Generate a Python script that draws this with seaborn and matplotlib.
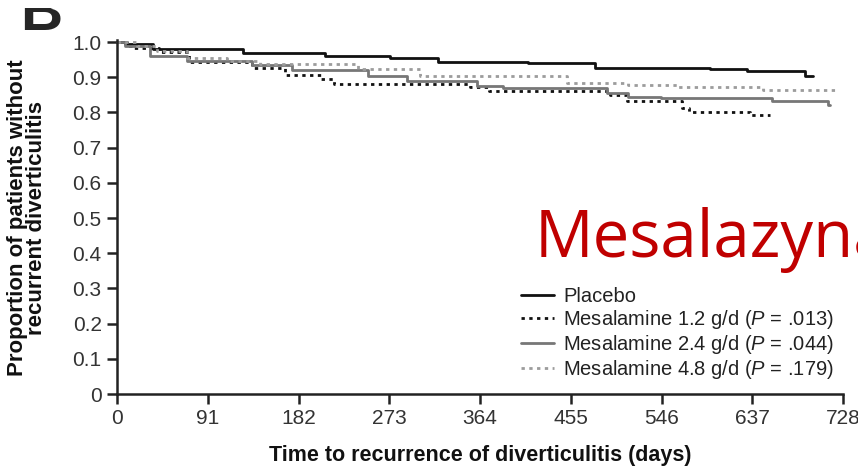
import numpy as np
import pandas as pd
import matplotlib
matplotlib.use("Agg")
import matplotlib.pyplot as plt
from matplotlib.patches import Rectangle
import seaborn as sns

# ---- data ----
placebo_days = [0, 8, 36, 126, 209, 274, 322, 412, 479, 595, 632, 690, 698]
placebo_surv = [1.0, 0.993, 0.98, 0.968, 0.961, 0.954, 0.944, 0.939, 0.927, 0.923, 0.918, 0.904, 0.904]

m12_days = [0, 10, 17, 42, 72, 135, 168, 205, 218, 354, 373, 494, 511, 567, 574, 635, 655]
m12_surv = [1.0, 0.99, 0.983, 0.972, 0.943, 0.925, 0.906, 0.894, 0.882, 0.871, 0.861, 0.849, 0.833, 0.812, 0.80, 0.792, 0.792]

m24_days = [0, 8, 33, 70, 135, 175, 252, 291, 361, 387, 491, 512, 545, 657, 713, 715]
m24_surv = [1.0, 0.99, 0.959, 0.947, 0.935, 0.921, 0.903, 0.888, 0.876, 0.868, 0.854, 0.845, 0.840, 0.831, 0.822, 0.822]

m48_days = [0, 20, 40, 70, 110, 143, 242, 304, 451, 512, 562, 648, 724]
m48_surv = [1.0, 0.99, 0.975, 0.955, 0.945, 0.937, 0.922, 0.902, 0.884, 0.878, 0.871, 0.864, 0.864]

labels = ["Placebo",
          r"Mesalamine 1.2 g/d ($\it{P}$ = .013)",
          r"Mesalamine 2.4 g/d ($\it{P}$ = .044)",
          r"Mesalamine 4.8 g/d ($\it{P}$ = .179)"]
x_ticks = [0, 91, 182, 273, 364, 455, 546, 637, 728]
y_ticks = [0, 0.1, 0.2, 0.3, 0.4, 0.5, 0.6, 0.7, 0.8, 0.9, 1.0]
y_ticklabels = ["0", "0.1", "0.2", "0.3", "0.4", "0.5", "0.6", "0.7", "0.8", "0.9", "1.0"]

sns.set_style("white")
plt.rcParams["font.family"] = ["Liberation Sans", "DejaVu Sans"]
plt.rcParams["mathtext.fontset"] = "custom"
plt.rcParams["mathtext.rm"] = "Liberation Sans"
plt.rcParams["mathtext.it"] = "Liberation Sans:italic"

fig = plt.figure(figsize=(8.58, 4.68), dpi=100)
ax = fig.add_axes([117/858, 74/468, 726/858, 352/468])

series = [
    (placebo_days, placebo_surv, "#111111", "-"),
    (m12_days, m12_surv, "#111111", (0, (1.2, 1.6))),
    (m24_days, m24_surv, "#777777", "-"),
    (m48_days, m48_surv, "#9c9c9c", (0, (1.2, 1.6))),
]
handles = []
for (d, s, c, ls), lab in zip(series, labels):
    df = pd.DataFrame({"day": d, "surv": s})
    sns.lineplot(data=df, x="day", y="surv", ax=ax, estimator=None, sort=False,
                 drawstyle="steps-post", color=c, linestyle=ls, linewidth=2.0,
                 legend=False)
    handles.append(ax.get_lines()[-1])

ax.set_xlim(0, 728)
ax.set_ylim(0, 1.0)
ax.set_xticks(x_ticks)
ax.set_yticks(y_ticks)
ax.set_yticklabels(y_ticklabels)
for sp in ["top", "right"]:
    ax.spines[sp].set_visible(False)
for sp in ["left", "bottom"]:
    ax.spines[sp].set_linewidth(1.8)
    ax.spines[sp].set_color("#222222")
ax.spines["left"].set_bounds(0, 1.005)
ax.tick_params(axis="both", direction="out", length=7, width=1.8, color="#222222",
               labelsize=15, labelcolor="#333333", pad=4, left=True, bottom=True)
for ln in ax.get_lines():
    ln.set_clip_on(False)

ax.set_xlabel("Time to recurrence of diverticulitis (days)", fontsize=15.5,
              fontweight="bold", color="#111111", va="center", ha="center")
ax.xaxis.set_label_coords(0.5, -(455 - 394) / 352)
ax.set_ylabel("Proportion of patients without\nrecurrent diverticulitis", fontsize=16,
              fontweight="bold", color="#111111", linespacing=0.9,
              va="center", ha="center")
ax.yaxis.set_label_coords(-(117 - 27) / 726, 0.5)

leg = fig.legend(handles, labels, loc="upper left", bbox_to_anchor=(521/858, 1 - 287/468),
                 frameon=False, fontsize=14.5, handlelength=1.65, handletextpad=0.45,
                 labelspacing=0.1, borderpad=0, borderaxespad=0)
for t in leg.get_texts():
    t.set_color("#222222")

fig.text(20/858, 1 - 30/468, "B", fontsize=42, fontweight="bold", ha="left", va="baseline")
fig.patches.append(Rectangle((0, 1 - 8/468), 0.2, 8/468, transform=fig.transFigure,
                             facecolor="white", edgecolor="none", zorder=10))

fig.text(535/858, 1 - 257/468, "Mesalazyna", fontsize=47, color="#C00000",
         family=["Open Sans", "DejaVu Sans"], fontweight="normal", ha="left", va="baseline")

fig.savefig("out.png", dpi=100)
